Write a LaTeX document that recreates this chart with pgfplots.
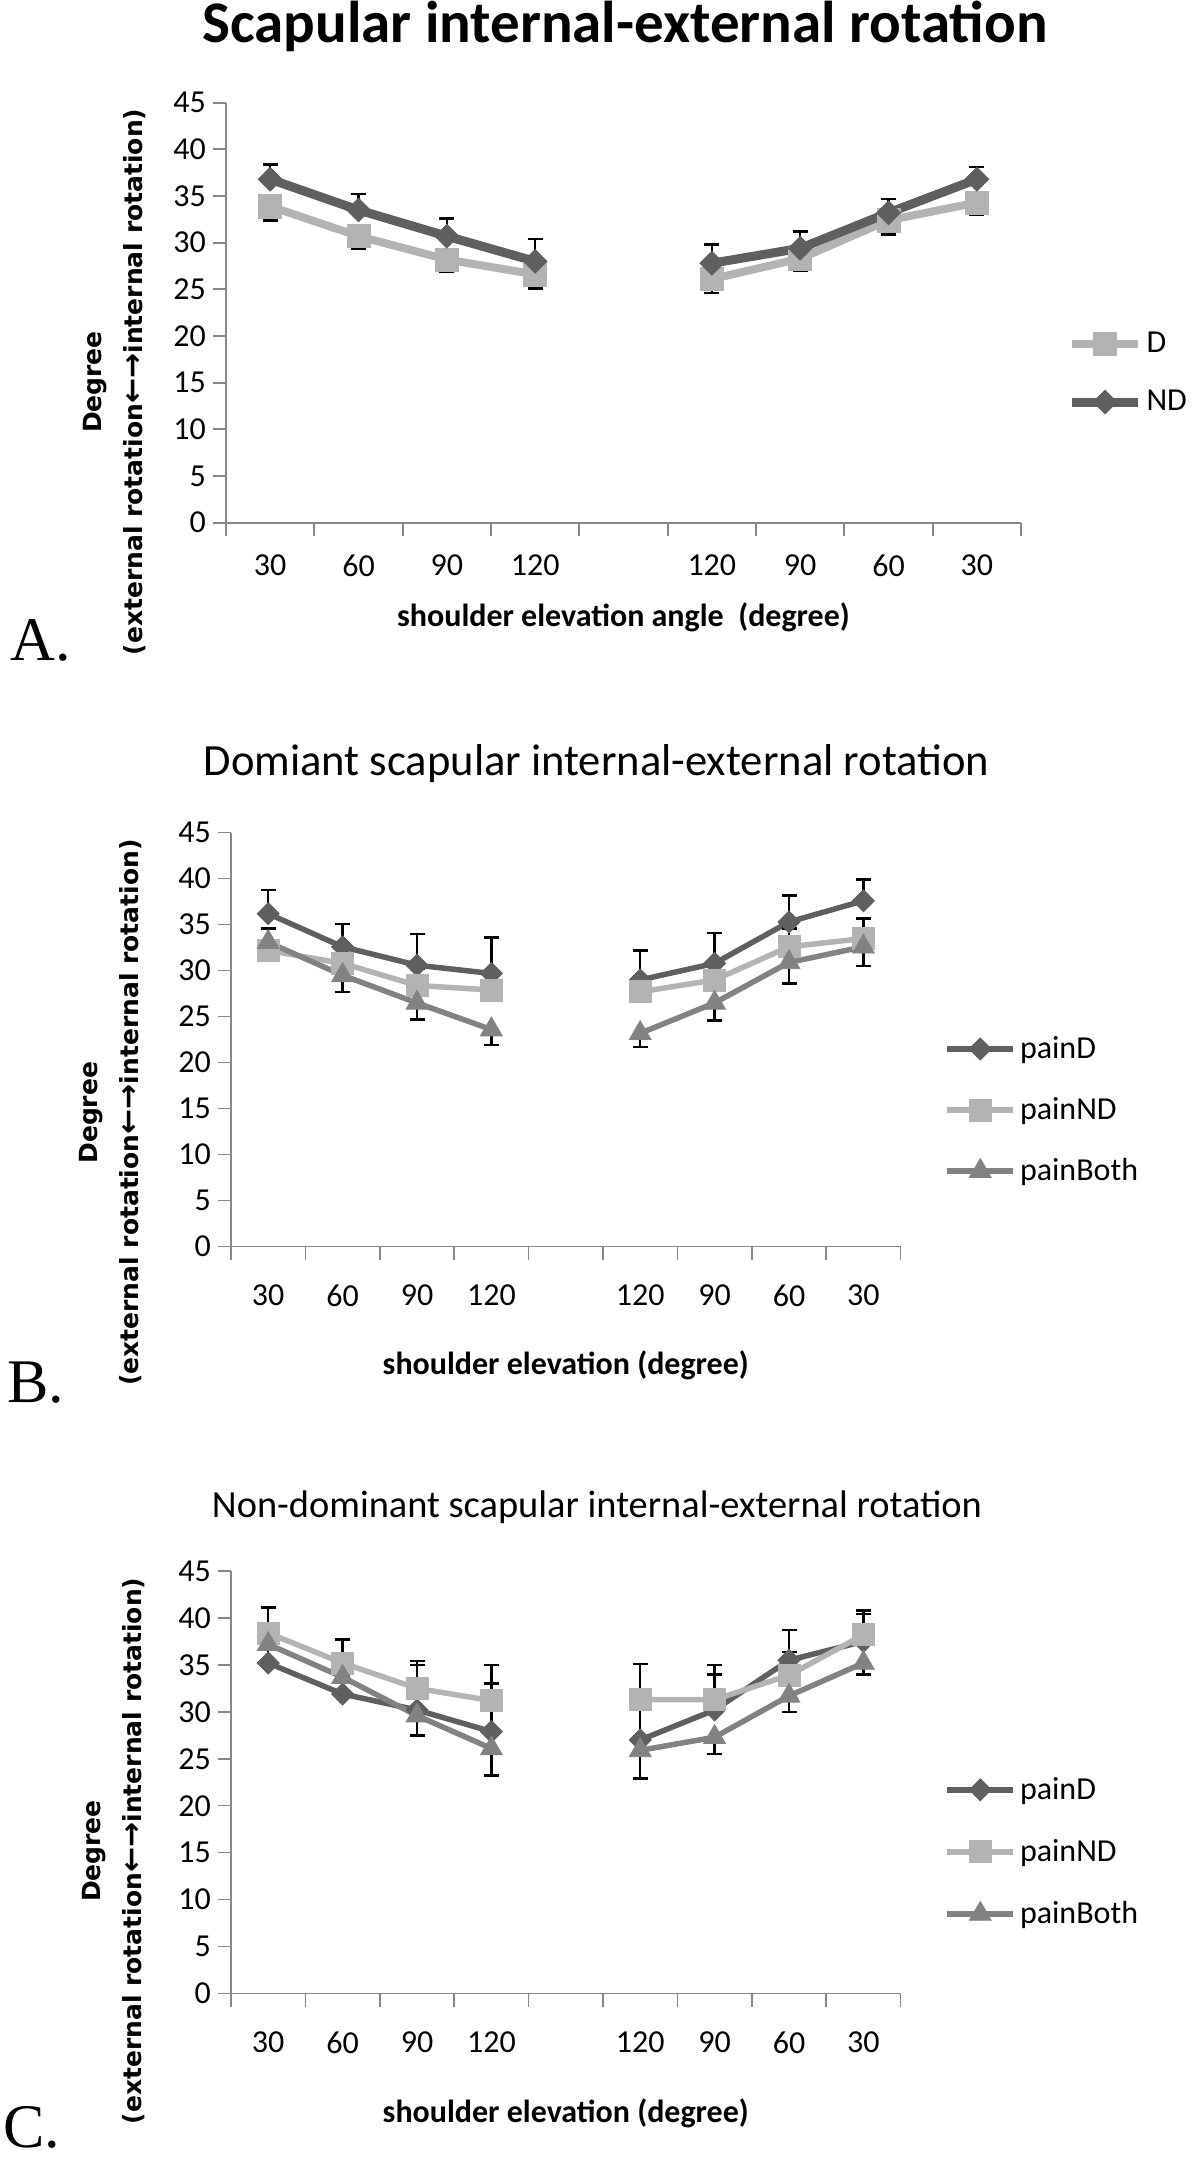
\documentclass[border=0pt]{standalone}
\usepackage{pgfplots}
\pgfplotsset{compat=1.18}
\usepackage{fontspec}
\setmainfont{Carlito}
\newfontfamily\ylabfont{DejaVu Sans}
\newfontfamily\letterfont{Liberation Serif}
\definecolor{darkg}{HTML}{5F5F5F}
\definecolor{lightg}{HTML}{B3B3B3}
\definecolor{midg}{HTML}{828282}
\definecolor{axisg}{HTML}{878787}
\newcommand\ticksize{\fontsize{16pt}{16pt}\selectfont}
\pgfplotsset{
  myaxis/.style={
    scale only axis, anchor=south west, clip=false,
    xmin=-0.5, xmax=8.5, ymin=0, ymax=45,
    axis x line*=bottom, axis y line*=left,
    axis line style={draw=axisg, line width=1pt},
    ytick={0,5,...,45},
    xtick={0,1,2,3,5,6,7,8},
    xticklabels={30,60,90,120,120,90,60,30},
    minor xtick={-0.5,0.5,...,8.5},
    tick align=outside,
    major tick length=6.5pt, minor tick length=6.5pt,
    major x tick style={draw=none},
    minor x tick style={draw=axisg, line width=1pt},
    ytick style={draw=axisg, line width=1pt},
    tick label style={font=\ticksize},
    /pgf/number format/assume math mode=true,
    unbounded coords=jump,
    legend cell align=left,
    legend image code/.code={\draw[mark repeat=2,mark phase=2,##1] plot coordinates {(0pt,0pt) (16.5pt,0pt) (33pt,0pt)};},
  },
  errplus/.style={error bars/.cd, y dir=plus, y explicit,
    error bar style={black, line width=1.25pt},
    error mark options={rotate=90, black, line width=1.25pt, mark size=3.75pt}},
  errminus/.style={error bars/.cd, y dir=minus, y explicit,
    error bar style={black, line width=1.25pt},
    error mark options={rotate=90, black, line width=1.25pt, mark size=3.75pt}},
}
\begin{document}
\begin{tikzpicture}
\useasboundingbox (0,0) rectangle (600pt,-1078.5pt);
% ---------------- Panel A
\begin{axis}[myaxis, at={(113pt,-261.35pt)}, width=397.5pt, height=210pt,
  xticklabel style={yshift=-6pt},
  legend style={at={(1.058,0.357)}, anchor=west, draw=none, fill=none, inner sep=0pt,
    row sep=13.5pt, font=\ticksize, nodes={inner sep=2pt}}]
\addplot[color=lightg, line width=4pt, mark=square*, mark size=5.8pt, mark options={line width=0.4pt}, errminus] coordinates {
(0,33.9) -= (0,1.5) (1,30.7) -= (0,1.4) (2,28.2) -= (0,1.3) (3,26.6) -= (0,1.5) (4,nan)
(5,26.1) -= (0,1.5) (6,28.3) -= (0,1.3) (7,32.4) -= (0,1.5) (8,34.3) -= (0,1.3)};
\addplot[color=darkg, line width=4.5pt, mark=square*, mark size=4.2pt, mark options={rotate=45, line width=0.4pt}, errplus] coordinates {
(0,36.8) += (0,1.6) (1,33.5) += (0,1.7) (2,30.7) += (0,1.9) (3,28.0) += (0,2.4) (4,nan)
(5,27.8) += (0,2.0) (6,29.4) += (0,1.8) (7,33.2) += (0,1.5) (8,36.8) += (0,1.3)};
\legend{D,ND}
\end{axis}
% ---------------- Panel B
\begin{axis}[myaxis, at={(115.5pt,-623.35pt)}, width=334.8pt, height=207pt,
  axis line style={draw=axisg, line width=0.75pt},
  minor x tick style={draw=axisg, line width=0.75pt},
  ytick style={draw=axisg, line width=0.75pt},
  xticklabel style={yshift=-9pt},
  legend style={at={(1.065,0.330)}, anchor=west, draw=none, fill=none, inner sep=0pt,
    row sep=14pt, font=\ticksize, nodes={inner sep=2pt}}]
\addplot[color=darkg, line width=2.75pt, mark=square*, mark size=3.9pt, mark options={rotate=45, line width=0.4pt}, errplus] coordinates {
(0,36.2) += (0,2.6) (1,32.6) += (0,2.5) (2,30.6) += (0,3.4) (3,29.7) += (0,3.9) (4,nan)
(5,29.0) += (0,3.2) (6,30.8) += (0,3.3) (7,35.3) += (0,2.9) (8,37.6) += (0,2.3)};
\addplot[color=lightg, line width=2.75pt, mark=square*, mark size=5.5pt, mark options={line width=0.4pt}, errplus] coordinates {
(0,32.2) += (0,2.4) (1,30.8) += (0,1.8) (2,28.4) += (0,1.8) (3,27.9) += (0,1.8) (4,nan)
(5,27.7) += (0,1.5) (6,29.0) += (0,1.5) (7,32.6) += (0,2.0) (8,33.5) += (0,2.2)};
\addplot[color=midg, line width=2.75pt, mark=triangle*, mark size=6.3pt, mark options={line width=0.4pt}, errminus] coordinates {
(0,33.1) -= (0,1.5) (1,29.5) -= (0,1.8) (2,26.5) -= (0,1.8) (3,23.6) -= (0,1.7) (4,nan)
(5,23.2) -= (0,1.5) (6,26.5) -= (0,1.9) (7,30.9) -= (0,2.3) (8,32.6) -= (0,2.1)};
\legend{painD,painND,painBoth}
\end{axis}
% ---------------- Panel C
\begin{axis}[myaxis, at={(115.5pt,-996.75pt)}, width=334.8pt, height=211.25pt,
  axis line style={draw=axisg, line width=0.75pt},
  minor x tick style={draw=axisg, line width=0.75pt},
  ytick style={draw=axisg, line width=0.75pt},
  xticklabel style={yshift=-9pt},
  legend style={at={(1.065,0.335)}, anchor=west, draw=none, fill=none, inner sep=0pt,
    row sep=14.5pt, font=\ticksize, nodes={inner sep=2pt}}]
\addplot[color=darkg, line width=2.75pt, mark=square*, mark size=3.9pt, mark options={rotate=45, line width=0.4pt}, errplus] coordinates {
(0,35.2) += (0,2.0) (1,31.9) += (0,2.0) (2,30.2) += (0,4.8) (3,27.9) += (0,5.1) (4,nan)
(5,27.0) += (0,3.5) (6,30.2) += (0,3.8) (7,35.5) += (0,3.2) (8,37.5) += (0,2.9)};
\addplot[color=lightg, line width=2.75pt, mark=square*, mark size=5.5pt, mark options={line width=0.4pt}, errplus] coordinates {
(0,38.4) += (0,2.7) (1,35.2) += (0,2.5) (2,32.5) += (0,2.9) (3,31.2) += (0,3.8) (4,nan)
(5,31.3) += (0,3.8) (6,31.3) += (0,3.7) (7,33.9) += (0,2.5) (8,38.2) += (0,2.6)};
\addplot[color=midg, line width=2.75pt, mark=triangle*, mark size=6.3pt, mark options={line width=0.4pt}, errminus] coordinates {
(0,37.2) -= (0,1.8) (1,33.7) -= (0,1.8) (2,29.6) -= (0,2.1) (3,26.1) -= (0,2.9) (4,nan)
(5,25.9) -= (0,3.0) (6,27.3) -= (0,1.8) (7,31.7) -= (0,1.7) (8,35.2) -= (0,1.2)};
\legend{painD,painND,painBoth}
\end{axis}
% ---------------- Titles and labels
\node[font=\fontsize{29.5pt}{31pt}\selectfont\bfseries] at (312.5pt,-13pt) {Scapular internal-external rotation};
\node[font=\fontsize{22.3pt}{24pt}\selectfont] at (298.25pt,-382pt) {Domiant scapular internal-external rotation};
\node[font=\fontsize{19.2pt}{21pt}\selectfont] at (298.5pt,-753.75pt) {Non-dominant scapular internal-external rotation};
\node[font=\fontsize{16pt}{18pt}\selectfont\bfseries] at (311.75pt,-308.5pt) {shoulder elevation angle\ \ (degree)};
\node[font=\fontsize{16pt}{18pt}\selectfont\bfseries] at (282.9pt,-682.5pt) {shoulder elevation (degree)};
\node[font=\fontsize{16pt}{18pt}\selectfont\bfseries] at (282.9pt,-1056.75pt) {shoulder elevation (degree)};
\node[rotate=90, align=center, font=\ylabfont\bfseries\fontsize{12.5pt}{20.5pt}\selectfont] at (57.5pt,-191pt) {Degree\\(external rotation{\fontsize{15pt}{15pt}\selectfont←→}internal rotation)};
\node[rotate=90, align=center, font=\ylabfont\bfseries\fontsize{12.5pt}{20.5pt}\selectfont] at (55.5pt,-556.35pt) {Degree\\(external rotation{\fontsize{15pt}{15pt}\selectfont←→}internal rotation)};
\node[rotate=90, align=center, font=\ylabfont\bfseries\fontsize{12.5pt}{20.5pt}\selectfont] at (57pt,-925.5pt) {Degree\\(external rotation{\fontsize{15pt}{15pt}\selectfont←→}internal rotation)};
\node[font=\letterfont\fontsize{31pt}{33pt}\selectfont] at (20.5pt,-320pt) {A.};
\node[font=\letterfont\fontsize{31pt}{33pt}\selectfont] at (18pt,-691.5pt) {B.};
\node[font=\letterfont\fontsize{31pt}{33pt}\selectfont] at (16pt,-1063.5pt) {C.};
\end{tikzpicture}
\end{document}
